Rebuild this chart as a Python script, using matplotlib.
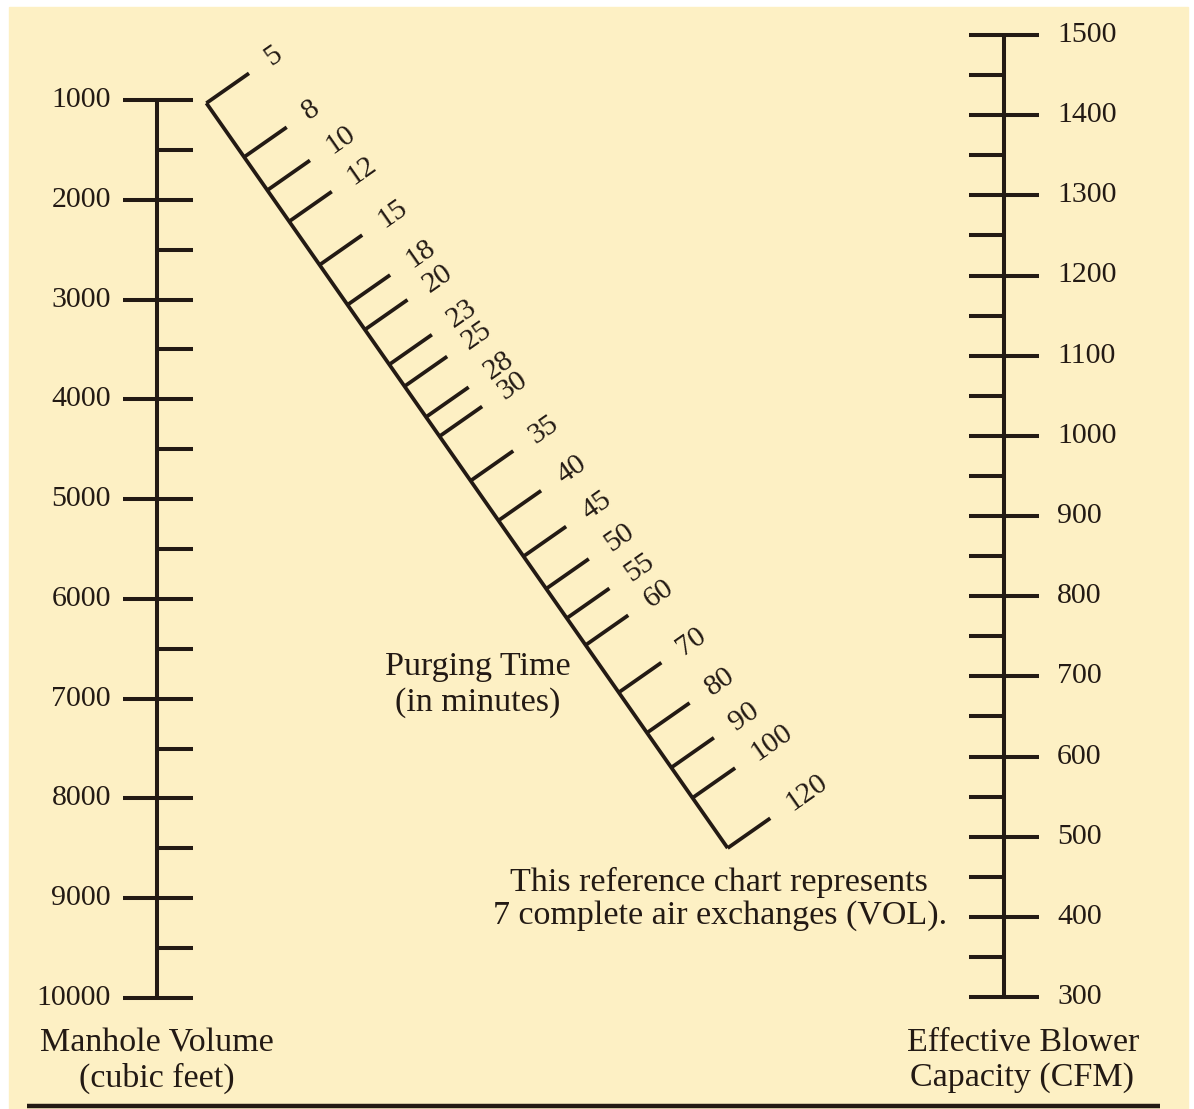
import numpy as np
import matplotlib.pyplot as plt
from matplotlib.patches import Rectangle

# manhole volume scale (cubic feet), left
volume_major = [1000, 2000, 3000, 4000, 5000, 6000, 7000, 8000, 9000, 10000]
volume_minor = [1500, 2500, 3500, 4500, 5500, 6500, 7500, 8500, 9500]

# effective blower capacity (CFM), right
blower_major = [1500, 1400, 1300, 1200, 1100, 1000, 900, 800, 700, 600, 500, 400, 300]
blower_minor = [1450, 1350, 1250, 1150, 1050, 950, 850, 750, 650, 550, 450, 350]

# purging time (minutes), diagonal
purge_times = [5, 8, 10, 12, 15, 18, 20, 23, 25, 28, 30, 35, 40, 45, 50, 55,
               60, 70, 80, 90, 100, 120]
air_exchanges = 7

W, H = 1194, 1109
ink = '#231a14'
paper = '#fdf0c4'
lw = 2.9
num_font = dict(family='Liberation Serif', size=21.5, color=ink)
title_font = dict(family='Liberation Serif', size=24.5, color=ink)

fig = plt.figure(figsize=(W / 100, H / 100), dpi=100, facecolor='white')
ax = fig.add_axes([0, 0, 1, 1])
ax.set_xlim(0, W)
ax.set_ylim(H, 0)
ax.axis('off')
ax.add_patch(Rectangle((9, 7), 1179, H, color=paper, zorder=0))

# layout of the two outer scales (pixel positions)
xl, xr = 157, 1004
def v_to_y(v):
    return 100 + (v - 1000) * 898 / 9000
def q_to_y(q):
    return 35 + (1500 - q) * 962 / 1200

# left scale
ax.plot([xl, xl], [v_to_y(1000), v_to_y(10000)], color=ink, lw=lw, solid_capstyle='butt')
for v in volume_major:
    y = v_to_y(v)
    ax.plot([123, 193], [y, y], color=ink, lw=lw, solid_capstyle='butt')
    ax.text(111, y, str(v), ha='right', va='center', **num_font)
for v in volume_minor:
    y = v_to_y(v)
    ax.plot([xl, 193], [y, y], color=ink, lw=lw, solid_capstyle='butt')

# right scale
ax.plot([xr, xr], [q_to_y(1500), q_to_y(300)], color=ink, lw=lw, solid_capstyle='butt')
for q in blower_major:
    y = q_to_y(q)
    ax.plot([969, 1039], [y, y], color=ink, lw=lw, solid_capstyle='butt')
    ax.text(1057, y, str(q), ha='left', va='center', **num_font)
for q in blower_minor:
    y = q_to_y(q)
    ax.plot([969, xr], [y, y], color=ink, lw=lw, solid_capstyle='butt')

# diagonal scale: T = n * V / Q, nomogram relation between the outer scales
# (ratio of scale moduli as drawn in the original, slightly off the ideal)
ratio = 0.127
pl = v_to_y(0)
pr = q_to_y(0)
t = np.array(purge_times, dtype=float)
r = ratio * t / air_exchanges
lam = r / (1 + r)
ty = pl * (1 - lam) + pr * lam
# the drawn diagonal runs through these two points
x0, y0, x1, y1 = 207, 104, 722, 840
tx = x0 + (ty - y0) * (x1 - x0) / (y1 - y0)

u = np.array([x1 - x0, y1 - y0], dtype=float)
u /= np.linalg.norm(u)
n = np.array([u[1], -u[0]])
ang = np.degrees(np.arctan2(u[0], u[1]))

ax.plot([tx[0], tx[-1]], [ty[0], ty[-1]], color=ink, lw=2.7, solid_capstyle='butt')
for xi, yi, ti in zip(tx, ty, purge_times):
    ax.plot([xi, xi + 52 * n[0]], [yi, yi + 52 * n[1]], color=ink, lw=2.7,
            solid_capstyle='butt')
    ax.text(xi + 74 * n[0], yi + 74 * n[1], str(ti), rotation=ang,
            rotation_mode='anchor', ha='left', va='center', **num_font)

# titles and notes
ax.text(157, 1043, 'Manhole Volume', ha='center', va='center', **title_font)
ax.text(157, 1078, '(cubic feet)', ha='center', va='center', **title_font)
ax.text(1023, 1043, 'Effective Blower', ha='center', va='center', **title_font)
ax.text(1022, 1078, 'Capacity (CFM)', ha='center', va='center', **title_font)
ax.text(478, 667, 'Purging Time', ha='center', va='center', **title_font)
ax.text(478, 703, '(in minutes)', ha='center', va='center', **title_font)
ax.text(719, 882, 'This reference chart represents', ha='center', va='center', **title_font)
ax.text(720, 916, '7 complete air exchanges (VOL).', ha='center', va='center', **title_font)

ax.plot([27, 1160], [1106, 1106], color=ink, lw=3.2, solid_capstyle='butt')

fig.savefig('out.png', dpi=100, facecolor=fig.get_facecolor())
